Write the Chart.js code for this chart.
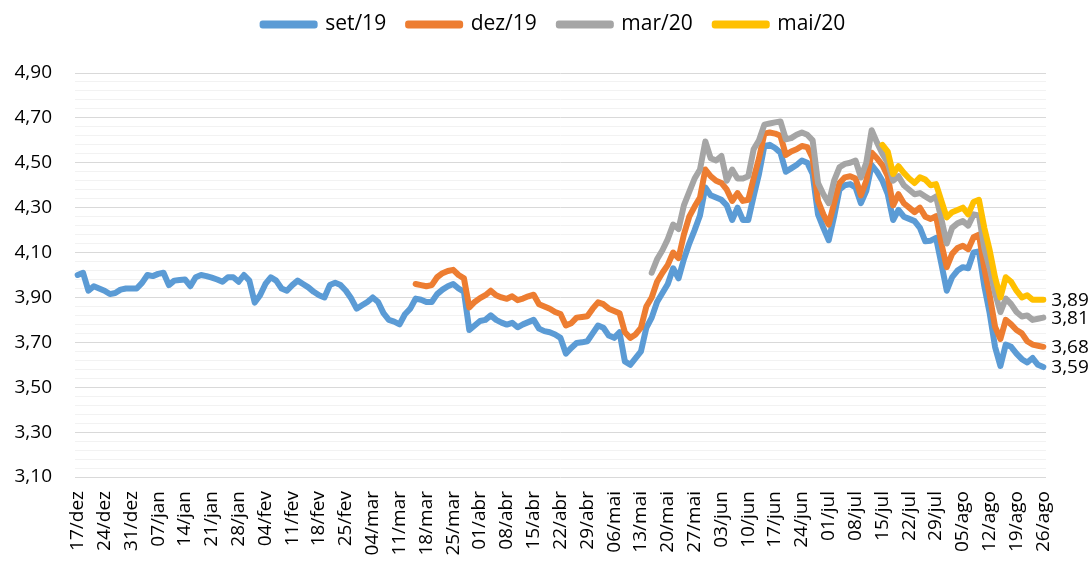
<!DOCTYPE html>
<html>
<head>
<meta charset="utf-8">
<script src="https://cdn.jsdelivr.net/npm/chart.js"></script>
<style>
  html, body { margin: 0; padding: 0; background: #ffffff; }
  #chart-box { width: 1089px; height: 562px; }
</style>
</head>
<body>
<div id="chart-box"><canvas id="curve-chart"></canvas></div>
<script>
/* ==========================
   Data
========================== */
// business days 17/dez/2019 .. 26/ago/2020 (one missing day after carnival)
const monthNames = ['jan', 'fev', 'mar', 'abr', 'mai', 'jun', 'jul', 'ago', 'set', 'out', 'nov', 'dez'];
const firstDay = new Date(2019, 11, 17);
const lastDay = new Date(2020, 7, 26);
const missingDays = ['26/fev'];

const seriesNames = ['set/19', 'dez/19', 'mar/20', 'mai/20'];
const seriesColors = ['#5B9BD5', '#ED7D31', '#A5A5A5', '#FFC000'];

// every series ends on the last day; the later ones start later
const set19 = [
  4.00, 4.01, 3.93, 3.95, 3.94, 3.93, 3.915, 3.92, 3.935, 3.94,
  3.94, 3.94, 3.965, 4.00, 3.995, 4.005, 4.01, 3.955, 3.975, 3.978,
  3.98, 3.95, 3.99, 4.00, 3.995, 3.988, 3.98, 3.97, 3.99, 3.99,
  3.97, 4.00, 3.975, 3.877, 3.91, 3.96, 3.99, 3.975, 3.94, 3.93,
  3.955, 3.975, 3.96, 3.945, 3.925, 3.91, 3.90, 3.955, 3.965, 3.955,
  3.93, 3.895, 3.85, 3.865, 3.88, 3.90, 3.88, 3.83, 3.80, 3.792,
  3.78, 3.825, 3.85, 3.895, 3.89, 3.88, 3.88, 3.915, 3.935, 3.95,
  3.96, 3.94, 3.925, 3.755, 3.775, 3.795, 3.80, 3.82, 3.80, 3.788,
  3.779, 3.787, 3.767, 3.78, 3.79, 3.80, 3.761, 3.75, 3.745, 3.735,
  3.72, 3.65, 3.675, 3.697, 3.70, 3.705, 3.74, 3.775, 3.765, 3.73,
  3.72, 3.745, 3.615, 3.60, 3.63, 3.66, 3.765, 3.81, 3.88, 3.92,
  3.96, 4.03, 3.985, 4.07, 4.14, 4.20, 4.265, 4.39, 4.355, 4.345,
  4.335, 4.31, 4.245, 4.30, 4.245, 4.245, 4.35, 4.45, 4.575, 4.58,
  4.566, 4.545, 4.46, 4.475, 4.49, 4.51, 4.50, 4.45, 4.27, 4.21,
  4.155, 4.26, 4.38, 4.40, 4.405, 4.39, 4.32, 4.375, 4.49, 4.46,
  4.42, 4.36, 4.245, 4.29, 4.26, 4.25, 4.24, 4.21, 4.15, 4.153,
  4.165, 4.05, 3.93, 3.99, 4.02, 4.035, 4.03, 4.10, 4.105, 3.95,
  3.83, 3.68, 3.595, 3.69, 3.68, 3.65, 3.625, 3.61, 3.63, 3.60,
  3.59
];

const dez19 = [
  3.96, 3.955, 3.95, 3.955, 3.99, 4.008, 4.018, 4.023, 4.00, 3.985,
  3.855, 3.88, 3.897, 3.91, 3.93, 3.91, 3.90, 3.894, 3.905, 3.888,
  3.895, 3.905, 3.912, 3.87, 3.86, 3.85, 3.835, 3.826, 3.775, 3.785,
  3.81, 3.813, 3.816, 3.85, 3.878, 3.87, 3.85, 3.84, 3.83, 3.745,
  3.72, 3.735, 3.765, 3.86, 3.90, 3.97, 4.01, 4.045, 4.10, 4.075,
  4.18, 4.26, 4.305, 4.345, 4.47, 4.44, 4.42, 4.41, 4.38, 4.33,
  4.365, 4.33, 4.335, 4.43, 4.52, 4.63, 4.635, 4.63, 4.62, 4.535,
  4.55, 4.56, 4.575, 4.57, 4.52, 4.33, 4.27, 4.225, 4.32, 4.41,
  4.435, 4.44, 4.43, 4.355, 4.42, 4.545, 4.52, 4.49, 4.44, 4.31,
  4.36, 4.32, 4.30, 4.28, 4.30, 4.26, 4.25, 4.262, 4.14, 4.035,
  4.094, 4.12, 4.13, 4.115, 4.168, 4.18, 4.03, 3.91, 3.77, 3.715,
  3.80, 3.78, 3.755, 3.74, 3.705, 3.69, 3.685, 3.68
];

const mar20 = [
  4.01, 4.07, 4.11, 4.16, 4.225, 4.205, 4.31, 4.37, 4.43, 4.47,
  4.595, 4.52, 4.51, 4.53, 4.42, 4.47, 4.43, 4.43, 4.44, 4.56,
  4.60, 4.67, 4.675, 4.68, 4.684, 4.605, 4.61, 4.625, 4.635, 4.625,
  4.60, 4.41, 4.36, 4.32, 4.42, 4.48, 4.495, 4.50, 4.51, 4.435,
  4.50, 4.645, 4.59, 4.54, 4.50, 4.42, 4.44, 4.40, 4.38, 4.36,
  4.365, 4.35, 4.335, 4.35, 4.25, 4.14, 4.21, 4.23, 4.24, 4.22,
  4.27, 4.265, 4.12, 4.03, 3.92, 3.835, 3.895, 3.87, 3.835, 3.815,
  3.82, 3.80, 3.805, 3.81
];

const mai20 = [
  4.58, 4.55, 4.45, 4.485, 4.455, 4.43, 4.41, 4.435, 4.425, 4.40,
  4.405, 4.33, 4.257, 4.28, 4.29, 4.30, 4.27, 4.325, 4.335, 4.21,
  4.11, 3.99, 3.90, 3.99, 3.97, 3.93, 3.90, 3.91, 3.89, 3.89,
  3.89
];

// y axis: 3,10 .. 4,90, labels every 0,20, light lines every 0,04
const yMin = 3.10;
const yMax = 4.90;
const yMinorStep = 0.04;

/* ==========================
   Build categories
========================== */
const dates = [];
for (let d = new Date(firstDay); d <= lastDay; d.setDate(d.getDate() + 1)) {
  const wd = d.getDay();
  if (wd === 0 || wd === 6) continue;
  const label = String(d.getDate()).padStart(2, '0') + '/' + monthNames[d.getMonth()];
  if (missingDays.includes(label)) continue;
  dates.push(label);
}

function padStart(values) {
  return Array(dates.length - values.length).fill(null).concat(values);
}

function fmt(v) {
  return v.toFixed(2).replace('.', ',');
}

const FONT = "'Open Sans', sans-serif";

// last-value labels at the right end of each line
const endLabels = {
  id: 'endLabels',
  afterDatasetsDraw(chart) {
    const ctx = chart.ctx;
    ctx.save();
    ctx.font = '19px ' + FONT;
    ctx.fillStyle = '#000';
    ctx.textAlign = 'left';
    ctx.textBaseline = 'middle';
    chart.data.datasets.forEach((ds, i) => {
      const meta = chart.getDatasetMeta(i);
      const last = meta.data[meta.data.length - 1];
      const v = ds.data[ds.data.length - 1];
      if (last && v != null) ctx.fillText(fmt(v), last.x + 8, last.y + 1);
    });
    ctx.restore();
  }
};

// extra room under the legend, and legend centred over the plot area
const legendPlace = {
  id: 'legendPlace',
  beforeInit(chart) {
    const fit = chart.legend.fit;
    chart.legend.fit = function () {
      fit.bind(chart.legend)();
      this.height += 28;
    };
  },
  afterLayout(chart) {
    chart.legend.left += 62;
  }
};

const allSeries = [set19, dez19, mar20, mai20];

const ctx = document.getElementById('curve-chart');
new Chart(ctx.getContext('2d'), {
  type: 'line',
  data: {
    labels: dates,
    datasets: allSeries.map((vals, i) => ({
      label: seriesNames[i],
      data: padStart(vals),
      borderColor: seriesColors[i],
      backgroundColor: seriesColors[i],
      borderWidth: 6,
      borderJoinStyle: 'round',
      borderCapStyle: 'round',
      pointRadius: 0,
      tension: 0,
      spanGaps: false,
      order: allSeries.length - i, // later series on top, like Excel
    })),
  },
  options: {
    responsive: true,
    maintainAspectRatio: false,
    animation: false,
    layout: {
      padding: { left: 0, right: 43, top: -8, bottom: 0 },
    },
    plugins: {
      legend: {
        position: 'top',
        labels: {
          boxWidth: 52,
          boxHeight: 2,
          padding: 22,
          color: '#000',
          font: { family: FONT, size: 21 },
          sort: (a, b) => a.datasetIndex - b.datasetIndex,
        },
      },
      tooltip: { enabled: false },
    },
    scales: {
      x: {
        type: 'category',
        offset: true,
        afterFit: (scale) => { scale.height = 85; },
        grid: { display: false, drawTicks: false },
        border: { display: false },
        ticks: {
          autoSkip: false,
          minRotation: 90,
          maxRotation: 90,
          padding: 14,
          color: '#000',
          font: { family: FONT, size: 19 },
          callback: function (val, index) {
            return index % 5 === 0 ? this.getLabelForValue(val) : '';
          },
        },
      },
      y: {
        min: yMin,
        max: yMax,
        afterFit: (scale) => { scale.width = 75; },
        grid: {
          drawTicks: false,
          lineWidth: 1,
          color: (c) => (c.index % 5 === 0 ? '#d9d9d9' : '#f2f2f2'),
        },
        border: { display: false },
        ticks: {
          stepSize: yMinorStep,
          autoSkip: false,
          padding: 23,
          color: '#000',
          font: { family: FONT, size: 19 },
          callback: (v, index) => (index % 5 === 0 ? fmt(v) : ''),
        },
      },
    },
  },
  plugins: [endLabels, legendPlace],
});
</script>
</body>
</html>
